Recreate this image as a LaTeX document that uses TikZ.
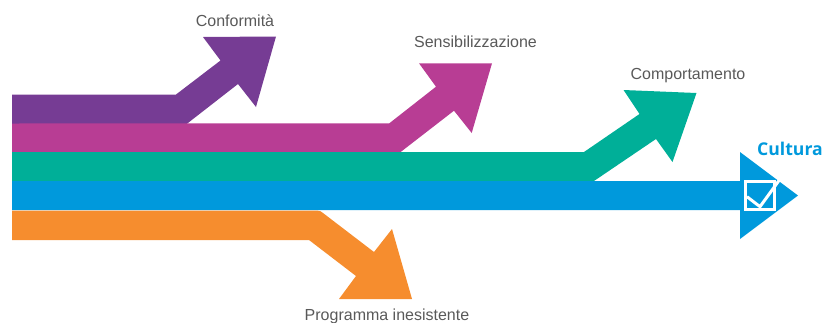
\documentclass[tikz,border=0pt]{standalone}
\usepackage{fontspec}
\setmainfont{Liberation Sans}
\newfontfamily\culturafont{Open Sans}
\definecolor{cviola}{HTML}{763C94}
\definecolor{cmag}{HTML}{B83D94}
\definecolor{cverde}{HTML}{00AF98}
\definecolor{cblu}{HTML}{0099DC}
\definecolor{carancio}{HTML}{F68D2E}
\definecolor{cgrigio}{HTML}{595959}
\tikzset{
  lab/.style={text=cgrigio,font=\fontsize{16}{18}\selectfont,inner sep=0pt,anchor=center},
  arrowshape/.style={line width=0pt,draw=none}
}
\begin{document}
\begin{tikzpicture}[x=1pt,y=-1pt]
\useasboundingbox (0,0) rectangle (823,322);
\fill[arrowshape,cviola] (12,94.5) -- (176,94.5) -- (220.5,60.5) -- (203,37) -- (276,36.5) -- (256,107) -- (238,84) -- (186,124.5) -- (12,124.5) -- cycle;
\fill[arrowshape,cmag] (12,123.5) -- (389.3,123.3) -- (436,86.7) -- (419,63.3) -- (492,63.3) -- (471.7,133) -- (454,110.7) -- (400,152.5) -- (12,152.5) -- cycle;
\fill[arrowshape,cverde] (12,152) -- (584,152) -- (639.5,114) -- (623.5,90) -- (696.5,93) -- (672.5,162) -- (656,139) -- (594,181) -- (12,181) -- cycle;
\fill[arrowshape,cblu] (12,181) -- (740,181) -- (740,152) -- (798,195.5) -- (740,239) -- (740,210) -- (12,210) -- cycle;
\fill[arrowshape,carancio] (12,210.5) -- (317,210.5) .. controls (320,210.5) and (321,211.5) .. (323,213) -- (374,252) -- (392,229) -- (412,299) -- (339,299) -- (356,276) -- (309,240) -- (12,240) -- cycle;
\draw[white,line width=3pt] (745.5,181.5) rectangle (774.5,209.5);
\draw[white,line width=3pt] (747,196.7) -- (760,206.7) -- (779,180.5);
\node[lab] (conf) at (235,20.5) {Conformità};
\node[lab] (sens) at (475.5,41.5) {Sensibilizzazione};
\node[lab] (comp) at (688,76) {Comportamento};
\node[lab] (prog) at (387,316) {Programma inesistente};
\node[inner sep=0pt,text=cblu,font=\culturafont\bfseries\fontsize{17.6}{20}\selectfont] (cult) at (790,149) {Cultura};
\end{tikzpicture}
\end{document}
